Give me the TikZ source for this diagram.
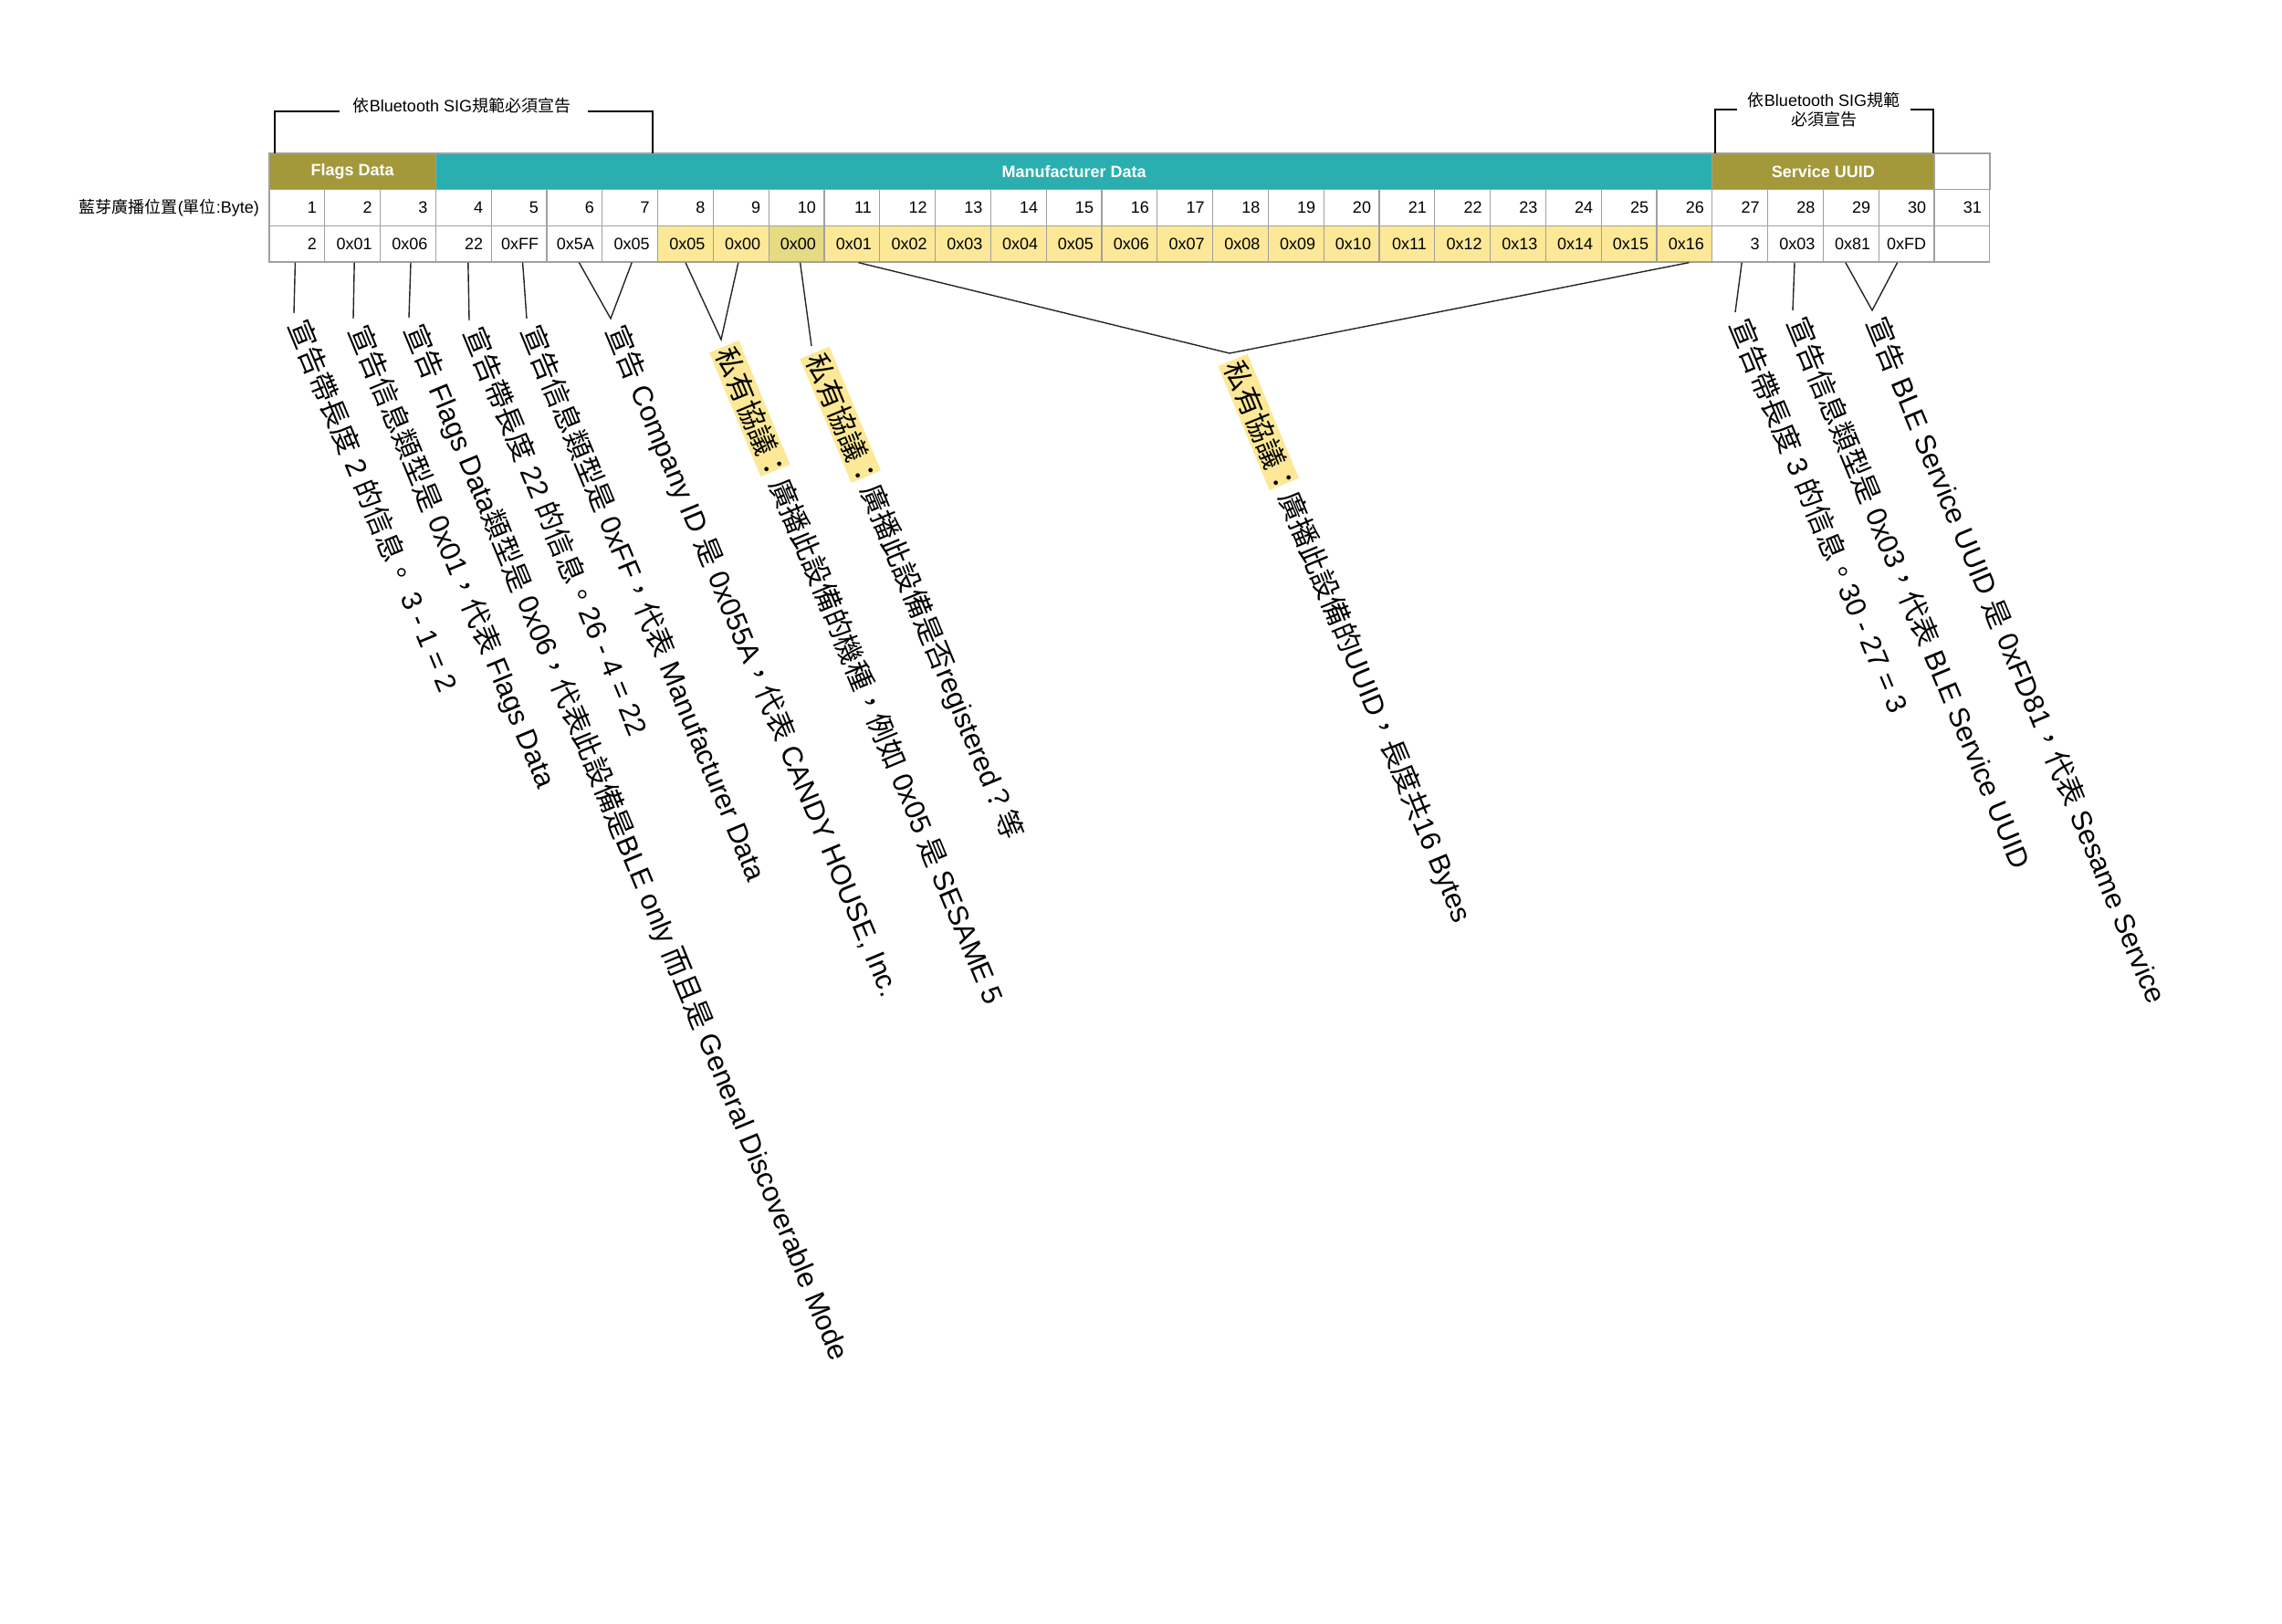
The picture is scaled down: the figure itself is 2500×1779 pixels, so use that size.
\documentclass[tikz,border=0pt]{standalone}
\usepackage{fontspec}
\setmainfont{Liberation Sans}
\newfontfamily\cjk{Noto Sans CJK TC}
\usetikzlibrary{calc}
\definecolor{hdrolive}{RGB}{163,152,58}
\definecolor{hdrteal}{RGB}{42,174,176}
\definecolor{cellyel}{RGB}{252,232,150}
\definecolor{cellyeldk}{RGB}{228,219,130}
\definecolor{gridgray}{RGB}{160,160,160}
\newcommand\C[1]{{\cjk #1}}
\newcommand\hlp{{\setlength\fboxsep{3pt}\colorbox{cellyel}{\C{私有協議}\makebox[0.55em][l]{\C{：}}}}\hspace{\dimexpr0.45em-3pt\relax}}
\tikzset{
  cellbox/.style={draw=gridgray, line width=1.2pt, minimum height=39.67pt, inner ysep=0pt, inner xsep=9pt, text width=42.8pt, align=right, font=\fontsize{18}{21}\selectfont},
  hdrbox/.style={draw=gridgray, line width=1.2pt, minimum height=39.67pt, inner sep=0pt, text=white, font=\fontsize{18}{21}\selectfont\bfseries},
  leader/.style={line width=1.4pt, black!85},
  bracket/.style={line width=1.6pt, black},
  note/.style={rotate=-67.5, anchor=west, inner sep=0pt, font=\fontsize{31}{37}\selectfont},
  small/.style={inner sep=0pt, font=\fontsize{18}{21.4}\selectfont}
}
\begin{document}
\begin{tikzpicture}[x=1pt,y=-1pt]
\useasboundingbox[fill=white] (0,0) rectangle (2500,1779);
% header row
\node[hdrbox, fill=hdrolive, minimum width=182.4pt] (hflags) at (386.2,187.8) {Flags Data};
\node[hdrbox, fill=hdrteal, minimum width=1398.4pt] (hmanu) at (1176.6,187.8) {Manufacturer Data};
\node[hdrbox, fill=hdrolive, minimum width=243.2pt] (hserv) at (1997.4,187.8) {Service UUID};
\node[hdrbox, fill=white, minimum width=60.8pt] (h31) at (2149.6,187.8) {};
% number row and value row
\foreach \i/\v in {1/2,2/0x01,3/0x06,4/22,5/0xFF,6/0x5A,7/0x05,8/0x05,9/0x00,10/0x00,11/0x01,12/0x02,13/0x03,14/0x04,15/0x05,16/0x06,17/0x07,18/0x08,19/0x09,20/0x10,21/0x11,22/0x12,23/0x13,24/0x14,25/0x15,26/0x16,27/3,28/0x03,29/0x81,30/0xFD,31/{}}{
  \pgfmathsetmacro\cx{295+(\i-0.5)*60.8}
  \pgfmathtruncatemacro\yel{(\i>7)&&(\i<27)}
  \ifnum\i=10 \def\fc{cellyeldk}\else\ifnum\yel=1 \def\fc{cellyel}\else\def\fc{white}\fi\fi
  \node[cellbox, fill=white] (n\i) at (\cx,227.5) {\i};
  \node[cellbox, fill=\fc] (v\i) at (\cx,267.2) {\v};
}
% row label
\node[small, anchor=east] (rowlabel) at (284,227.5) {\C{藍芽廣播位置}(\C{單位}:Byte)};
% brackets
\node[small] (brA) at (506,116) {\C{依}Bluetooth SIG\C{規範必須宣告}};
\coordinate (a1) at (301,168);
\coordinate (a2) at (301,122);
\coordinate (a3) at (372,122);
\coordinate (a4) at (644,122);
\coordinate (a5) at (715,122);
\coordinate (a6) at (715,168);
\draw[bracket] (a1) -- (a2) -- (a3);
\draw[bracket] (a4) -- (a5) -- (a6);
\node[small, align=center] (brB) at (1998,120) {\C{依}Bluetooth SIG\C{規範}\\\C{必須宣告}};
\coordinate (b1) at (1879,168);
\coordinate (b2) at (1879,120);
\coordinate (b3) at (1903,120);
\coordinate (b4) at (2093,120);
\coordinate (b5) at (2118,120);
\coordinate (b6) at (2118,168);
\draw[bracket] (b1) -- (b2) -- (b3);
\draw[bracket] (b4) -- (b5) -- (b6);
% leader end points
\coordinate (e1) at (322,343);
\coordinate (e2) at (387,349);
\coordinate (e3) at (448,348);
\coordinate (e4) at (514,351);
\coordinate (e5) at (577,349);
\coordinate (e6) at (669,349);
\coordinate (e7) at (790,372);
\coordinate (e8) at (889,379);
\coordinate (e9) at (1347,387);
\coordinate (e10) at (1901,342);
\coordinate (e11) at (1964,340);
\coordinate (e12) at (2051,340);
% leaders
\draw[leader] ($(v1.south)+(-2,0)$) -- (e1);
\draw[leader] ($(v2.south)+(2,0)$) -- (e2);
\draw[leader] ($(v3.south)+(3,0)$) -- (e3);
\draw[leader] ($(v4.south)+(5,0)$) -- (e4);
\draw[leader] ($(v5.south)+(4,0)$) -- (e5);
\draw[leader] ($(v6.south)+(5,0)$) -- (e6) -- ($(v7.south)+(2,0)$);
\draw[leader] ($(v8.south)+(0,0)$) -- (e7) -- ($(v9.south)+(-3,0)$);
\draw[leader] ($(v10.south)+(4,0)$) -- (e8);
\draw[leader] ($(v11.south)+(7,0)$) -- (e9) -- ($(v26.south)+(5,0)$);
\draw[leader] ($(v27.south)+(2,0)$) -- (e10);
\draw[leader] ($(v28.south)+(-1,0)$) -- (e11);
\draw[leader] ($(v29.south)+(-6,0)$) -- (e12) -- ($(v30.south)+(-10,0)$);
% notes
\node[note] (t1) at ($(e1)+(67.5:10)$) {\C{宣告帶長度} 2 \C{的信息。} 3 - 1 = 2};
\node[note] (t2) at ($(e2)+(67.5:10)$) {\C{宣告信息類型是} 0x01\C{，代表} Flags Data};
\node[note] (t3) at ($(e3)+(67.5:10)$) {\C{宣告} Flags Data\C{類型是} 0x06\C{，代表此設備是}BLE only \C{而且是} General Discoverable Mode};
\node[note] (t4) at ($(e4)+(67.5:10)$) {\C{宣告帶長度} 22 \C{的信息。}26 - 4 = 22};
\node[note] (t5) at ($(e5)+(67.5:10)$) {\C{宣告信息類型是} 0xFF\C{，代表} Manufacturer Data};
\node[note] (t6) at ($(e6)+(67.5:10)$) {\C{宣告} Company ID \C{是} 0x055A\C{，代表} CANDY HOUSE, Inc.};
\node[note] (t7) at ($(e7)+(67.5:8)$) {\hlp\C{廣播此設備的機種，例如} 0x05 \C{是} SESAME 5};
\node[note] (t8) at ($(e8)+(67.5:8)$) {\hlp\C{廣播此設備是否}registered\C{？等}};
\node[note] (t9) at ($(e9)+(67.5:8)$) {\hlp\C{廣播此設備的}UUID\C{，長度共}16 Bytes};
\node[note] (t10) at ($(e10)+(67.5:10)$) {\C{宣告帶長度} 3 \C{的信息。}30 - 27 = 3};
\node[note] (t11) at ($(e11)+(67.5:10)$) {\C{宣告信息類型是} 0x03\C{，代表} BLE Service UUID};
\node[note] (t12) at ($(e12)+(67.5:10)$) {\C{宣告} BLE Service UUID \C{是} 0xFD81\C{，代表} Sesame Service};
\end{tikzpicture}
\end{document}
